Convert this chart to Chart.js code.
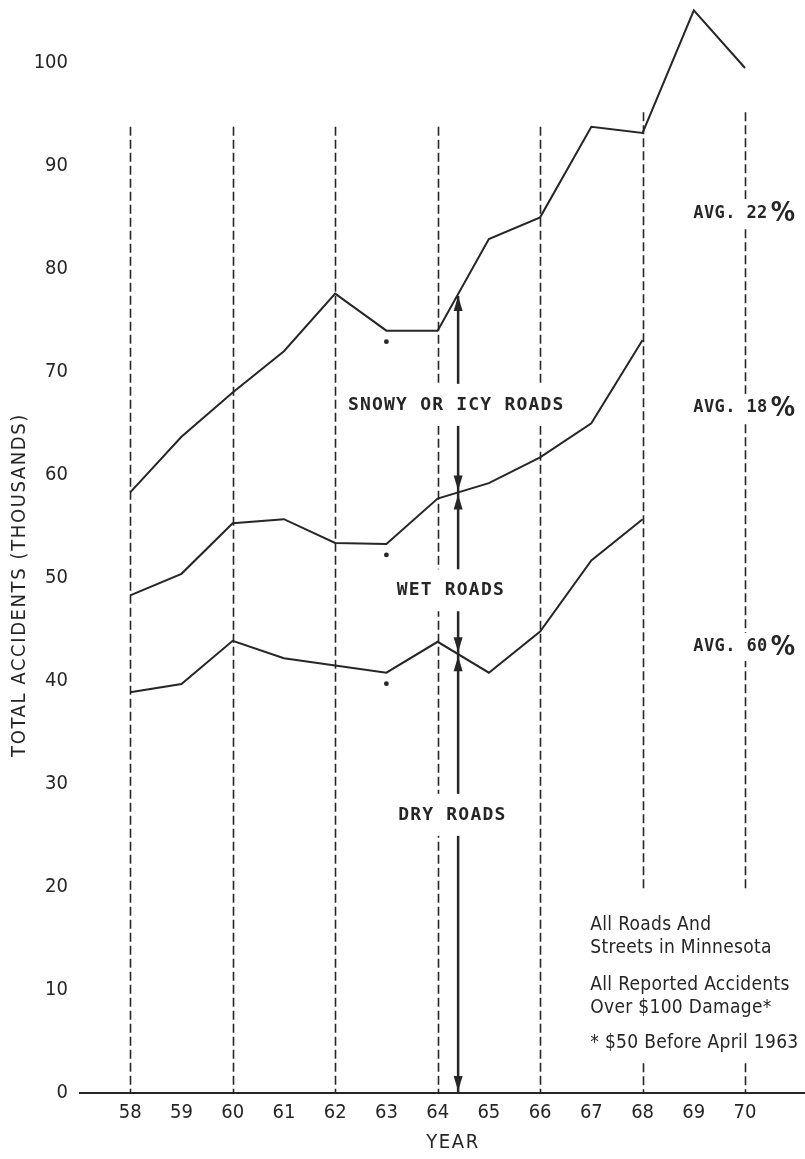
<!DOCTYPE html>
<html>
<head>
<meta charset="utf-8">
<script src="https://cdn.jsdelivr.net/npm/chart.js@4.4.1/dist/chart.umd.min.js"></script>
<style>
  body { margin: 0; background: #fff; }
  canvas { display: block; }
</style>
</head>
<body>
<canvas id="chart" width="805" height="1159"></canvas>
<script>
// years on the x axis (19xx)
const years = [58, 59, 60, 61, 62, 63, 64, 65, 66, 67, 68, 69, 70];
// top line = all roads (snowy/icy + wet + dry), thousands
const totalAccidents = [58.3, 63.7, 68.0, 72.0, 77.6, 74.0, 74.0, 82.9, 85.0, 93.8, 93.2, 105.1, 99.5];
// middle line = wet + dry
const wetAndDry = [48.3, 50.4, 55.3, 55.7, 53.4, 53.3, 57.7, 59.2, 61.7, 65.0, 73.1];
// bottom line = dry roads
const dryRoads = [38.9, 39.7, 43.9, 42.2, 41.5, 40.8, 43.8, 40.8, 44.8, 51.7, 55.7];
const yTicks = [0, 10, 20, 30, 40, 50, 60, 70, 80, 90, 100];
const dashedYears = [58, 60, 62, 64, 66, 68, 70];
const avgLabels = ['22', '18', '60'];
const noteLines = ['All Roads And', 'Streets in Minnesota', 'All Reported Accidents', 'Over $100 Damage*', '* $50 Before April 1963'];

const ink = '#262626';
const narrow = "'Liberation Sans Narrow', 'DejaVu Sans Condensed', 'Liberation Sans', sans-serif";
const mono = "'DejaVu Sans Mono', 'Liberation Mono', monospace";

function points(arr) {
  return arr.map((v, i) => ({ x: years[i], y: v }));
}
function valueAt(arr, x) {
  const i = Math.floor(x) - years[0];
  const t = x - Math.floor(x);
  return arr[i] + (arr[i + 1] - arr[i]) * t;
}

const arrowYear = 64.4;

const extras = {
  id: 'extras',
  beforeDatasetsDraw(chart) {
    const { ctx, scales: { x, y } } = chart;
    ctx.save();
    ctx.strokeStyle = ink;
    ctx.lineWidth = 1.6;
    ctx.setLineDash([9, 4]);
    dashedYears.forEach(yr => {
      const xp = Math.round(x.getPixelForValue(yr)) + 0.5;
      const top = y.getPixelForValue(yr >= 68 ? 95.2 : 93.8);
      ctx.beginPath();
      if (yr >= 68) {
        ctx.moveTo(xp, top); ctx.lineTo(xp, y.getPixelForValue(19.5));
        ctx.moveTo(xp, y.getPixelForValue(2.9)); ctx.lineTo(xp, y.getPixelForValue(0));
      } else {
        ctx.moveTo(xp, top); ctx.lineTo(xp, y.getPixelForValue(0));
      }
      ctx.stroke();
    });
    ctx.restore();
  },
  afterDatasetsDraw(chart) {
    const { ctx, scales: { x, y } } = chart;
    ctx.save();
    // arrow
    const ax = x.getPixelForValue(arrowYear);
    const yTop = y.getPixelForValue(valueAt(totalAccidents, arrowYear));
    const yMid = y.getPixelForValue(valueAt(wetAndDry, arrowYear));
    const yLow = y.getPixelForValue(valueAt(dryRoads, arrowYear));
    const y0 = y.getPixelForValue(0);
    ctx.strokeStyle = ink;
    ctx.fillStyle = ink;
    ctx.lineWidth = 2.5;
    ctx.beginPath();
    ctx.moveTo(ax, yTop + 2); ctx.lineTo(ax, y0);
    ctx.stroke();
    const head = (tip, dir) => {
      ctx.beginPath();
      ctx.moveTo(ax, tip);
      ctx.lineTo(ax - 4.5, tip + dir * 15);
      ctx.lineTo(ax + 4.5, tip + dir * 15);
      ctx.closePath();
      ctx.fill();
    };
    head(yTop + 2, 1);
    head(yMid - 2, -1); head(yMid + 2, 1);
    head(yLow - 2, -1); head(yLow + 2, 1);
    head(y0 - 2, -1);

    // asterisks under the 1963 points
    [totalAccidents, wetAndDry, dryRoads].forEach(arr => {
      ctx.beginPath();
      ctx.arc(x.getPixelForValue(63), y.getPixelForValue(arr[5]) + 11, 2.4, 0, Math.PI * 2);
      ctx.fill();
    });

    // road labels with white boxes
    const boxLabel = (text, xv, yv) => {
      ctx.font = 'bold 18px ' + mono;
      ctx.letterSpacing = '1.2px';
      const w = ctx.measureText(text).width;
      const lx = x.getPixelForValue(xv), ly = y.getPixelForValue(yv);
      ctx.fillStyle = '#fff';
      ctx.fillRect(lx - 7, ly - 21, w + 14, 42);
      ctx.fillStyle = ink;
      ctx.textBaseline = 'middle';
      ctx.textAlign = 'left';
      ctx.fillText(text, lx, ly);
    };
    boxLabel('SNOWY OR ICY ROADS', 62.25, 66.8);
    boxLabel('WET ROADS', 63.2, 48.8);
    boxLabel('DRY ROADS', 63.23, 27.0);

    // average shares
    const avgY = [85.4, 66.5, 43.3];
    avgLabels.forEach((p, i) => {
      const lx = x.getPixelForValue(68.99), ly = y.getPixelForValue(avgY[i]);
      ctx.font = 'bold 17px ' + mono;
      ctx.letterSpacing = '0.4px';
      const t = 'AVG. ' + p;
      const w = ctx.measureText(t).width;
      ctx.fillStyle = '#fff';
      ctx.fillRect(lx - 2, ly - 14, w + 34, 28);
      ctx.fillStyle = ink;
      ctx.textBaseline = 'middle';
      ctx.fillText(t, lx, ly);
      ctx.letterSpacing = '0px';
      ctx.font = 'bold 27px ' + narrow;
      ctx.fillText('%', lx + w + 3, ly + 1);
    });

    // notes box
    ctx.font = '19px ' + narrow;
    ctx.letterSpacing = '0.3px';
    ctx.fillStyle = ink;
    ctx.textAlign = 'left';
    const noteY = [16.3, 14.1, 10.5, 8.25, 4.85];
    noteLines.forEach((t, i) => ctx.fillText(t, x.getPixelForValue(66.98), y.getPixelForValue(noteY[i])));

    // axis titles
    ctx.font = '20px ' + narrow;
    ctx.letterSpacing = '1.6px';
    ctx.textAlign = 'center';
    ctx.fillText('YEAR', x.getPixelForValue(64.3), 1143);
    ctx.translate(20, 585);
    ctx.rotate(-Math.PI / 2);
    ctx.fillText('TOTAL ACCIDENTS (THOUSANDS)', 0, 0);
    ctx.restore();
  }
};

new Chart(document.getElementById('chart'), {
  type: 'line',
  data: {
    datasets: [
      { data: points(totalAccidents) },
      { data: points(wetAndDry) },
      { data: points(dryRoads) }
    ]
  },
  options: {
    responsive: false,
    animation: false,
    layout: { padding: 0 },
    elements: {
      line: { borderColor: ink, borderWidth: 2, tension: 0 },
      point: { radius: 0 }
    },
    plugins: { legend: { display: false }, tooltip: { enabled: false } },
    scales: {
      x: {
        type: 'linear',
        min: 57.02,
        max: 71.17,
        afterFit: s => { s.height = 66; s.paddingLeft = 0; s.paddingRight = 0; },
        afterBuildTicks: s => { s.ticks = years.map(v => ({ value: v })); },
        grid: { display: false, drawTicks: false },
        border: { display: true, color: ink, width: 2 },
        ticks: { color: ink, padding: 8, font: { family: narrow, size: 20 } }
      },
      y: {
        min: 0,
        max: 106.1,
        afterFit: s => { s.width = 80; s.paddingTop = 0; s.paddingBottom = 0; },
        afterBuildTicks: s => { s.ticks = yTicks.map(v => ({ value: v })); },
        grid: { display: false, drawTicks: false },
        border: { display: false },
        ticks: { color: ink, padding: 12, font: { family: narrow, size: 20 } }
      }
    }
  },
  plugins: [extras]
});
</script>
</body>
</html>
